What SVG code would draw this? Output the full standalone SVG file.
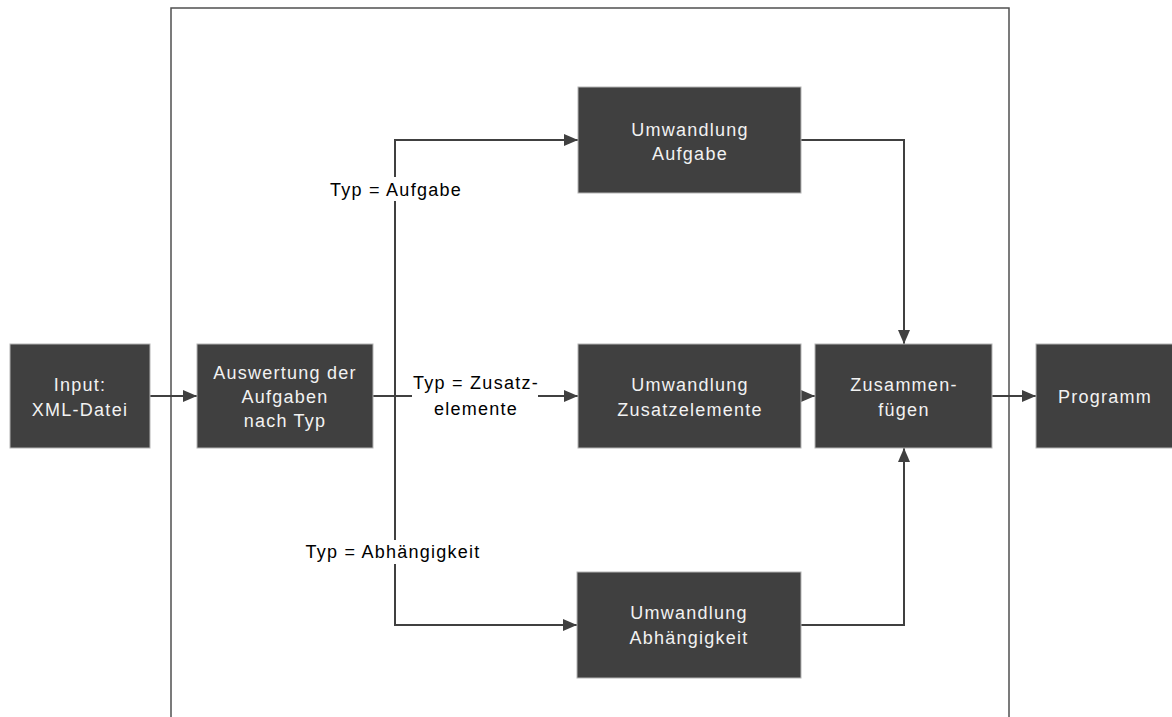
<svg xmlns="http://www.w3.org/2000/svg" width="1172" height="717" viewBox="0 0 1172 717">
  <style>
    .box { fill: #404040; stroke: #b4b4b4; stroke-width: 1; }
    .btxt { fill: #f2f2f2; font-family: "Liberation Sans", Arial, sans-serif; font-size: 18px; letter-spacing: 1.25px; text-anchor: middle; }
    .ltxt { fill: #000000; font-family: "Liberation Sans", Arial, sans-serif; font-size: 18px; letter-spacing: 1.25px; text-anchor: middle; }
    .wire { fill: none; stroke: #404040; stroke-width: 2; }
    .frame { fill: none; stroke: #505050; stroke-width: 1.5; }
  </style>
  <defs>
    <marker id="arrow" viewBox="0 0 14 12" refX="14" refY="6" markerWidth="14" markerHeight="12" markerUnits="userSpaceOnUse" orient="auto">
      <path d="M0,0 L14,6 L0,12 Z" fill="#404040"/>
    </marker>
  </defs>
  <rect width="1172" height="717" fill="#ffffff"/>

  <!-- processing frame, open at the bottom -->
  <path class="frame" d="M171,717 V8 H1009 V717"/>

  <!-- connectors -->
  <g id="connectors">
    <line class="wire" x1="150" y1="396" x2="197" y2="396" marker-end="url(#arrow)"/>
    <path class="wire" d="M373,396 H395"/>
    <path class="wire" d="M395,396 V140 H578" marker-end="url(#arrow)"/>
    <path class="wire" d="M395,396 V625 H577" marker-end="url(#arrow)"/>
    <line class="wire" x1="395" y1="396" x2="578" y2="396" marker-end="url(#arrow)"/>
    <line class="wire" x1="801" y1="396" x2="815" y2="396" marker-end="url(#arrow)"/>
    <path class="wire" d="M801,140 H904 V344" marker-end="url(#arrow)"/>
    <path class="wire" d="M801,625 H904 V448" marker-end="url(#arrow)"/>
    <line class="wire" x1="992" y1="396" x2="1036" y2="396" marker-end="url(#arrow)"/>

    <!-- branch labels -->
    <rect x="328" y="177" width="136" height="24" fill="#ffffff"/>
    <text class="ltxt" x="396" y="196">Typ = Aufgabe</text>
    <rect x="412" y="372" width="126" height="48" fill="#ffffff"/>
    <text class="ltxt" x="476" y="389">Typ = Zusatz-</text>
    <text class="ltxt" x="476" y="415">elemente</text>
    <rect x="303" y="540" width="179" height="24" fill="#ffffff"/>
    <text class="ltxt" x="393" y="558">Typ = Abhängigkeit</text>
  </g>

  <g id="input">
    <rect class="box" x="10" y="344" width="140" height="104"/>
    <text class="btxt" x="80" y="391">Input:</text>
    <text class="btxt" x="80" y="416">XML-Datei</text>
  </g>

  <g id="auswertung">
    <rect class="box" x="197" y="344" width="176" height="104"/>
    <text class="btxt" x="285" y="379">Auswertung der</text>
    <text class="btxt" x="285" y="403">Aufgaben</text>
    <text class="btxt" x="285" y="427">nach Typ</text>
  </g>

  <g id="umwandlung-aufgabe">
    <rect class="box" x="578" y="87" width="223" height="106"/>
    <text class="btxt" x="690" y="136">Umwandlung</text>
    <text class="btxt" x="690" y="160">Aufgabe</text>
  </g>

  <g id="umwandlung-zusatz">
    <rect class="box" x="578" y="344" width="223" height="104"/>
    <text class="btxt" x="690" y="391">Umwandlung</text>
    <text class="btxt" x="690" y="416">Zusatzelemente</text>
  </g>

  <g id="umwandlung-abhaengigkeit">
    <rect class="box" x="577" y="572" width="224" height="106"/>
    <text class="btxt" x="689" y="619">Umwandlung</text>
    <text class="btxt" x="689" y="644">Abhängigkeit</text>
  </g>

  <g id="zusammenfuegen">
    <rect class="box" x="815" y="344" width="177" height="104"/>
    <text class="btxt" x="904" y="391">Zusammen-</text>
    <text class="btxt" x="904" y="416">fügen</text>
  </g>

  <g id="programm">
    <rect class="box" x="1036" y="344" width="137" height="104"/>
    <text class="btxt" x="1105" y="403">Programm</text>
  </g>
</svg>
